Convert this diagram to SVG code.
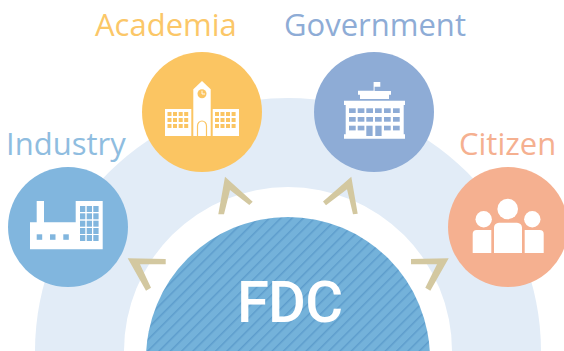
<svg xmlns="http://www.w3.org/2000/svg" width="564" height="351" viewBox="0 0 564 351">
<style>
.lbl{font-family:"Open Sans","Liberation Sans",sans-serif;font-size:31px}
.w{fill:#fff}
.chev{fill:#d3c8a0}
</style>
<defs>
<pattern id="hatch" width="8" height="8" patternUnits="userSpaceOnUse" patternTransform="rotate(-45)">
<rect width="8" height="8" fill="#74b2da"/><rect width="8" height="1.5" fill="#5d9dcc"/>
</pattern>
</defs>
<rect width="564" height="351" fill="#fff"/>
<g id="bands">
<circle cx="288" cy="351" r="253" fill="#e2ecf7"/>
<circle cx="288" cy="351" r="164" fill="#fff"/>
</g>
<g id="fdc">
<circle cx="288" cy="359" r="142" fill="url(#hatch)"/>
<text x="290" y="322" text-anchor="middle" font-family="Roboto,'Liberation Sans',sans-serif" font-size="58" font-weight="500" fill="#fff" textLength="106" lengthAdjust="spacing">FDC</text>
</g>
<g id="connectors">
<polygon class="chev" points="127.7,258.3 165.7,259 165.7,264.3 140,264.3 151,287.7 146,290.7"/>
<polygon class="chev" points="225,176.7 252.7,201.7 249.3,205 230,190 224,214.3 218.3,214.3"/>
<polygon class="chev" points="351.3,176.7 357.7,213.7 353,214.3 347,189.3 326,205.3 323,201.5"/>
<polygon class="chev" points="448.7,258.3 411,259 411,264.3 437,264.3 425.3,287.7 430.3,290.7"/>
</g>
<g id="industry">
<text class="lbl" x="6" y="155" fill="#8fbde0">Industry</text>
<circle cx="68" cy="227" r="60" fill="#81b6de"/>
<path class="w" d="M36.7 201H44V222.3H75.7V201H102.7V249.3H30V222.3H36.7Z"/>
<g fill="#81b6de">
<rect x="36.7" y="234.3" width="5.5" height="5.5"/><rect x="50" y="234.3" width="5.5" height="5.5"/><rect x="63.3" y="234.3" width="5.5" height="5.5"/>
<rect x="80" y="206" width="5.3" height="6"/><rect x="86.7" y="206" width="5.3" height="6"/><rect x="93.3" y="206" width="5.3" height="6"/>
<rect x="80" y="213.3" width="5.3" height="6"/><rect x="86.7" y="213.3" width="5.3" height="6"/><rect x="93.3" y="213.3" width="5.3" height="6"/>
<rect x="80" y="220.7" width="5.3" height="6"/><rect x="86.7" y="220.7" width="5.3" height="6"/><rect x="93.3" y="220.7" width="5.3" height="6"/>
<rect x="80" y="228" width="5.3" height="6"/><rect x="86.7" y="228" width="5.3" height="6"/><rect x="93.3" y="228" width="5.3" height="6"/>
<rect x="80" y="235" width="5.3" height="6"/><rect x="86.7" y="235" width="5.3" height="6"/><rect x="93.3" y="235" width="5.3" height="6"/>
</g>
</g>
<g id="academia">
<text class="lbl" x="95" y="36" fill="#fbc768">Academia</text>
<circle cx="202" cy="112" r="60" fill="#fbc562"/>
<rect class="w" x="165" y="109" width="26.3" height="27"/>
<rect class="w" x="212.7" y="109" width="26.3" height="27"/>
<path class="w" d="M193.3 136V89.3L202 81L210.7 89.3V136Z"/>
<path d="M197.5 136V126a4.5 5 0 0 1 9 0V136" fill="#fff" stroke="#fbc562" stroke-width="1.2"/>
<circle cx="202" cy="93.7" r="4.5" fill="#fbc562"/>
<path d="M202 90.7V94H205" fill="none" stroke="#fff" stroke-width=".9"/>
<g fill="#fbc562">
<rect x="167.5" y="112" width="4" height="4"/><rect x="173" y="112" width="4" height="4"/><rect x="178.7" y="112" width="4" height="4"/><rect x="184.2" y="112" width="4" height="4"/>
<rect x="167.5" y="118" width="4" height="4"/><rect x="173" y="118" width="4" height="4"/><rect x="178.7" y="118" width="4" height="4"/><rect x="184.2" y="118" width="4" height="4"/>
<rect x="167.5" y="124" width="4" height="4"/><rect x="173" y="124" width="4" height="4"/><rect x="178.7" y="124" width="4" height="4"/><rect x="184.2" y="124" width="4" height="4"/>
<rect x="215" y="112" width="4" height="4"/><rect x="220.5" y="112" width="4" height="4"/><rect x="226" y="112" width="4" height="4"/><rect x="231.6" y="112" width="4" height="4"/>
<rect x="215" y="118" width="4" height="4"/><rect x="220.5" y="118" width="4" height="4"/><rect x="226" y="118" width="4" height="4"/><rect x="231.6" y="118" width="4" height="4"/>
<rect x="215" y="124" width="4" height="4"/><rect x="220.5" y="124" width="4" height="4"/><rect x="226" y="124" width="4" height="4"/><rect x="231.6" y="124" width="4" height="4"/>
</g>
</g>
<g id="government">
<text class="lbl" x="284" y="36" fill="#8eacd6">Government</text>
<circle cx="374" cy="112" r="60" fill="#8eacd6"/>
<path class="w" d="M373.6 82H380.3V86.7H374.6V91H391V94.7H389V99H360V94.7H358V90.7H373.6Z"/>
<path class="w" d="M344 100.7H405V105H403.7V134.3H405V138.7H344V134.3H345.7V105H344Z"/>
<g fill="#8eacd6">
<rect x="349" y="108.3" width="6.7" height="4.7"/><rect x="357.7" y="108.3" width="6.7" height="4.7"/><rect x="366.3" y="108.3" width="6.7" height="4.7"/><rect x="375" y="108.3" width="6.7" height="4.7"/><rect x="384" y="108.3" width="6.7" height="4.7"/><rect x="393" y="108.3" width="6.7" height="4.7"/>
<rect x="349" y="117" width="6.7" height="4.7"/><rect x="357.7" y="117" width="6.7" height="4.7"/><rect x="366.3" y="117" width="6.7" height="4.7"/><rect x="375" y="117" width="6.7" height="4.7"/><rect x="384" y="117" width="6.7" height="4.7"/><rect x="393" y="117" width="6.7" height="4.7"/>
<rect x="349" y="125.7" width="6.7" height="4.7"/><rect x="357.7" y="125.7" width="6.7" height="4.7"/><rect x="384" y="125.7" width="6.7" height="4.7"/><rect x="393" y="125.7" width="6.7" height="4.7"/>
<rect x="366.3" y="125.7" width="6.3" height="10.3"/><rect x="375.3" y="125.7" width="6.3" height="10.3"/>
</g>
</g>
<g id="citizen">
<text class="lbl" x="459" y="155" fill="#f5b090">Citizen</text>
<circle cx="508" cy="227" r="60" fill="#f5b090"/>
<circle class="w" cx="507.7" cy="209" r="10.3"/>
<circle class="w" cx="483.7" cy="219.3" r="8.2"/>
<circle class="w" cx="532.3" cy="219.3" r="8.2"/>
<path class="w" d="M494 253V228a5 5 0 0 1 5-5.3H517a5 5 0 0 1 5 5.3V253Z"/>
<path class="w" d="M472.7 253V234a4 4 0 0 1 4-4H491.3V253Z"/>
<path class="w" d="M524.7 253V230H539.7a4 4 0 0 1 4 4V253Z"/>
</g>
</svg>
